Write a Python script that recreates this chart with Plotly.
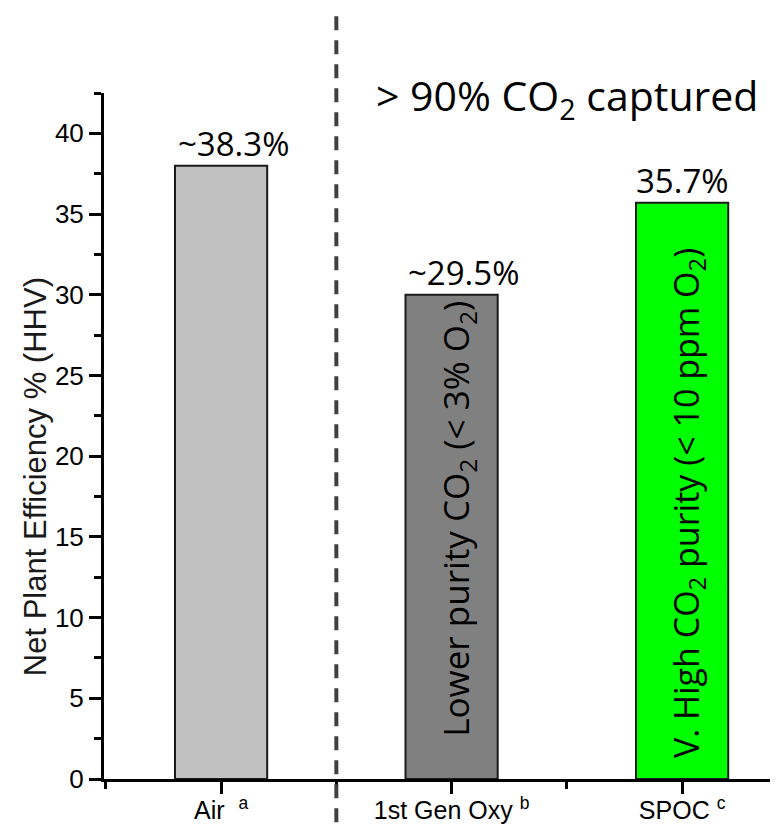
import plotly.graph_objects as go

# ---- data ----
categories = ["Air", "1st Gen Oxy", "SPOC"]
superscripts = ["a", "b", "c"]
efficiency = [38.0, 30.0, 35.7]
value_labels = ["~38.3%", "~29.5%", "35.7%"]
bar_colors = ["#c0c0c0", "#808080", "#00ff00"]
y_ticks = [0, 5, 10, 15, 20, 25, 30, 35, 40]

xpos = list(range(len(categories)))
NB = "\u00a0"
ticktext = [
    f"{categories[0]}{NB*2}<sup>{superscripts[0]}</sup>",
    f"{categories[1]}{NB}<sup>{superscripts[1]}</sup>",
    f"{categories[2]}{NB}<sup>{superscripts[2]}</sup>",
]

fig = go.Figure()
fig.add_trace(go.Bar(
    x=xpos, y=efficiency, width=0.4,
    marker=dict(color=bar_colors, line=dict(color="#1a1a1a", width=2)),
    hoverinfo="skip",
))

ann_font = "Open Sans, Noto Sans, sans-serif"
annotations = []
for xi, v, lab in zip(xpos, efficiency, value_labels):
    annotations.append(dict(
        x=xi, y=v, xref="x", yref="y", text=lab, showarrow=False,
        yanchor="bottom", xanchor="center",
        xshift=12 if lab.startswith("~") else 0, yshift=-2,
        font=dict(family=ann_font, size=33, color="black"),
    ))

annotations.append(dict(
    x=1.5, y=0.994, xref="x", yref="paper",
    text="> 90% CO<sub>2</sub> captured", showarrow=False,
    xanchor="center", yanchor="middle",
    font=dict(family=ann_font, size=41, color="black"),
))
annotations.append(dict(
    x=1, y=16.1, xref="x", yref="y", textangle=-90, xshift=6,
    text="Lower purity CO<sub>2</sub> (< 3% O<sub>2</sub>)", showarrow=False,
    xanchor="center", yanchor="middle",
    font=dict(family=ann_font, size=35, color="black"),
))
annotations.append(dict(
    x=2, y=17.1, xref="x", yref="y", textangle=-90, xshift=6,
    text="V. High CO<sub>2</sub> purity (< 10 ppm O<sub>2</sub>)", showarrow=False,
    xanchor="center", yanchor="middle",
    font=dict(family=ann_font, size=34, color="black"),
))
annotations.append(dict(
    x=0, xref="paper", xshift=-69, y=18.7, yref="y", textangle=-90,
    text="Net Plant Efficiency % (HHV)", showarrow=False,
    xanchor="center", yanchor="middle",
    font=dict(family="Liberation Sans, Arial, sans-serif", size=31, color="#1a1a1a"),
))

fig.add_shape(
    type="line", xref="x", yref="paper", x0=0.5, x1=0.5, y0=-0.063, y1=1.124,
    line=dict(color="#404040", width=4, dash="14px,10px"),
)

narrow = "Liberation Sans Narrow, Arial Narrow, Liberation Sans, Arial, sans-serif"
xtick_font = dict(family=narrow, size=25, color="black")
ytick_font = dict(family=narrow, size=26, color="black")

# The page body adds an 8px offset, so the figure is 8px smaller on each axis.
fig.update_layout(
    width=770, height=819,
    margin=dict(l=96, r=0, t=85, b=48, autoexpand=False),
    paper_bgcolor="white", plot_bgcolor="white",
    showlegend=False,
    annotations=annotations,
    xaxis=dict(
        range=[-0.508, 2.416], tickmode="array", tickvals=xpos, ticktext=ticktext,
        showline=True, linecolor="black", linewidth=3, automargin=False,
        ticks="outside", ticklen=12, tickwidth=3, tickcolor="black",
        ticklabelstandoff=-5,
        showgrid=False, zeroline=False, tickfont=xtick_font,
        minor=dict(tickmode="linear", tick0=0.5, dtick=1, ticks="outside",
                   ticklen=7, tickwidth=3, tickcolor="black", showgrid=False),
    ),
    yaxis=dict(
        range=[0, 42.5], tickmode="array", tickvals=y_ticks,
        showline=True, linecolor="black", linewidth=3, automargin=False,
        ticks="outside", ticklen=12, tickwidth=3, tickcolor="black",
        showgrid=False, zeroline=False, tickfont=ytick_font,
        minor=dict(tickmode="linear", tick0=2.5, dtick=5, ticks="outside",
                   ticklen=7, tickwidth=3, tickcolor="black", showgrid=False),
    ),
)

fig.write_html("out.html")
